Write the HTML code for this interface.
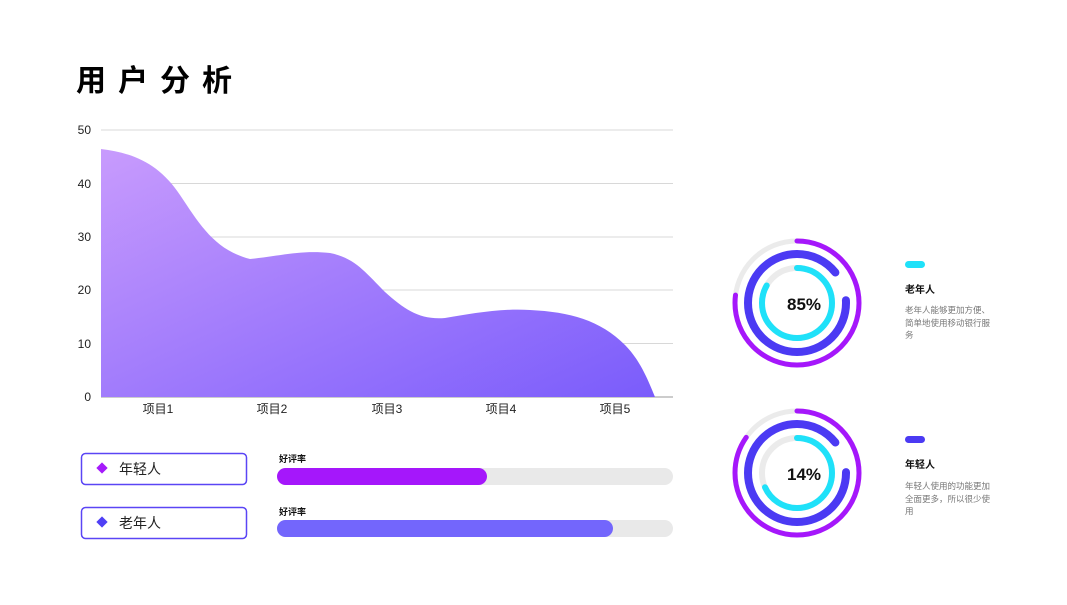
<!DOCTYPE html>
<html><head><meta charset="utf-8"><style>
body{margin:0;background:#fff;font-family:"Liberation Sans","Noto Sans CJK SC",sans-serif;}
svg text{font-family:"Liberation Sans","Noto Sans CJK SC",sans-serif;}
</style></head><body>
<svg width="1067" height="600" viewBox="0 0 1067 600" xmlns="http://www.w3.org/2000/svg">
<defs>
<linearGradient id="ag" x1="0" y1="0" x2="1" y2="1">
<stop offset="0" stop-color="#c89bfd"/><stop offset="1" stop-color="#7a5cfb"/>
</linearGradient>
</defs>
<text x="76" y="91" font-size="30" font-weight="bold" letter-spacing="12" fill="#000">用户分析</text>
<g stroke="#d8d8d8" stroke-width="1">
<line x1="101" y1="130" x2="673" y2="130"/><line x1="101" y1="183.5" x2="673" y2="183.5"/>
<line x1="101" y1="237" x2="673" y2="237"/><line x1="101" y1="290" x2="673" y2="290"/>
<line x1="101" y1="343.5" x2="673" y2="343.5"/>
</g>
<line x1="101" y1="397" x2="673" y2="397" stroke="#999"/>
<g font-size="12" fill="#222" text-anchor="end">
<text x="91" y="134">50</text><text x="91" y="188">40</text><text x="91" y="241">30</text>
<text x="91" y="294">20</text><text x="91" y="348">10</text><text x="91" y="401">0</text>
</g>
<g font-size="12" fill="#222" text-anchor="middle">
<text x="158" y="413">项目1</text><text x="272" y="413">项目2</text><text x="387" y="413">项目3</text>
<text x="501" y="413">项目4</text><text x="615" y="413">项目5</text>
</g>
<path d="M101,149 C135,153 160,165 180,195 C200,225 215,250 250,259 C280,256 300,250 330,253 C355,258 365,272 385,292 C405,310 420,320 445,318 C470,314 500,308 530,310 C570,312 600,320 625,345 C640,360 648,380 655,397 L101,397 Z" fill="url(#ag)"/>
<rect x="81.5" y="453.5" width="165" height="31" rx="4" fill="#fff" stroke="#5a45f5" stroke-width="1.5"/>
<rect x="98" y="464" width="8" height="8" fill="#a51bfb" transform="rotate(45 102 468)"/>
<text x="119" y="474" font-size="14" fill="#222">年轻人</text>
<rect x="81.5" y="507.5" width="165" height="31" rx="4" fill="#fff" stroke="#5a45f5" stroke-width="1.5"/>
<rect x="98" y="518" width="8" height="8" fill="#4f3ff5" transform="rotate(45 102 522)"/>
<text x="119" y="528" font-size="14" fill="#222">老年人</text>
<text x="279" y="462" font-size="9" font-weight="bold" fill="#111">好评率</text>
<rect x="277" y="468" width="396" height="17" rx="8.5" fill="#e9e9e9"/>
<rect x="277" y="468" width="210" height="17" rx="8.5" fill="#a517fb"/>
<text x="279" y="515" font-size="9" font-weight="bold" fill="#111">好评率</text>
<rect x="277" y="520" width="396" height="17" rx="8.5" fill="#e9e9e9"/>
<rect x="277" y="520" width="336" height="17" rx="8.5" fill="#7366fc"/>
<g fill="none" stroke-linecap="round">
<g transform="translate(797,303) rotate(-90)">
<circle r="62" stroke="#ebebeb" stroke-width="5"/>
<circle r="62" stroke="#a517fb" stroke-width="5" stroke-dasharray="300 1000"/>
<circle r="49" stroke="#4b3af3" stroke-width="8" stroke-dasharray="44 30 234 1000"/>
<circle r="35" stroke="#ebebeb" stroke-width="6"/>
<circle r="35" stroke="#1fe1f9" stroke-width="6" stroke-dasharray="183 1000"/>
</g>
<g transform="translate(797,473) rotate(-90)">
<circle r="62" stroke="#ebebeb" stroke-width="5"/>
<circle r="62" stroke="#a517fb" stroke-width="5" stroke-dasharray="330 1000"/>
<circle r="49" stroke="#4b3af3" stroke-width="8" stroke-dasharray="44 32 232 1000"/>
<circle r="35" stroke="#ebebeb" stroke-width="6"/>
<circle r="35" stroke="#1fe1f9" stroke-width="6" stroke-dasharray="150 1000"/>
</g>
</g>
<text x="804" y="310" font-size="17" font-weight="bold" text-anchor="middle" fill="#111">85%</text>
<text x="804" y="480" font-size="17" font-weight="bold" text-anchor="middle" fill="#111">14%</text>
<rect x="905" y="261" width="20" height="7" rx="3.5" fill="#1fe1f9"/>
<text x="905" y="293" font-size="10" font-weight="bold" fill="#111">老年人</text>
<g font-size="8.5" fill="#777"><text x="905" y="313">老年人能够更加方便、</text><text x="905" y="326">简单地使用移动银行服</text><text x="905" y="338">务</text></g>
<rect x="905" y="436" width="20" height="7" rx="3.5" fill="#4b3af3"/>
<text x="905" y="468" font-size="10" font-weight="bold" fill="#111">年轻人</text>
<g font-size="8.5" fill="#777"><text x="905" y="489">年轻人使用的功能更加</text><text x="905" y="502">全面更多，所以很少使</text><text x="905" y="514">用</text></g>
</svg>
</body></html>
